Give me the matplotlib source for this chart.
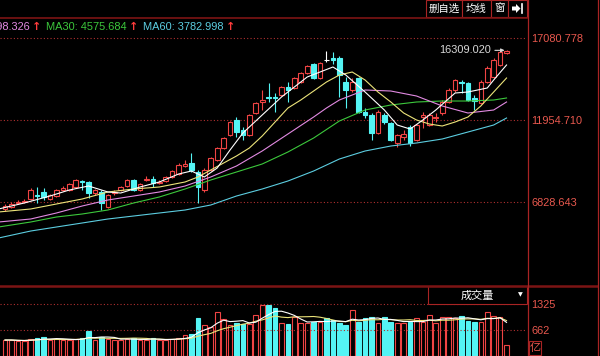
import matplotlib
matplotlib.use("Agg")
import matplotlib.pyplot as plt
import numpy as np
import pandas as pd
from matplotlib.lines import Line2D
from matplotlib.patches import Rectangle, Polygon

# ---------------- data ----------------
opens = [6392, 6517, 6767, 6829, 7017, 7267, 7455, 7017, 7205, 7580,
         7580, 7767, 8142, 8080, 7392, 7455, 6517, 7392, 7580, 7830,
         8205, 7580, 8205, 8267, 8017, 8142, 8392, 8580, 9080, 9267,
         8705, 7580, 8830, 9455, 10205, 11017, 11955, 11330, 11017, 12392,
         13080, 13392, 13392, 13517, 14017, 13955, 14330, 14893, 15455, 14580,
         15705, 15830, 15830, 14330, 13830, 14580, 12455, 12267, 11142, 12267,
         11767, 10517, 10892, 11517, 10705, 12142, 11642, 12079, 12392, 13080,
         13830, 14330, 14267, 13330, 13017, 14330, 14643, 15393, 16143]
closes = [6579, 6704, 6829, 6892, 7580, 7205, 7142, 7267, 7580, 7705,
          7955, 8205, 8080, 7392, 7580, 6767, 7267, 7455, 7767, 8205,
          7580, 7955, 8267, 8017, 8080, 8392, 8767, 9142, 9205, 8830,
          7767, 8830, 9580, 10205, 10830, 11830, 11205, 11017, 12267, 13017,
          13205, 13330, 13330, 14017, 13830, 14580, 14893, 15330, 14580, 15518,
          15705, 15705, 14768, 13830, 14330, 12455, 12267, 11142, 12455, 11830,
          10705, 11017, 11080, 10517, 11642, 12267, 12267, 12142, 13080, 13830,
          14455, 14267, 13205, 13142, 14330, 15205, 15705, 16205, 16268]
highs = [6704, 6829, 6954, 7017, 7705, 7767, 7705, 7330, 7642, 7830,
         8017, 8267, 8205, 8142, 7642, 7580, 7330, 7580, 7830, 8267,
         8267, 8017, 8455, 8455, 8205, 8455, 8830, 9267, 9455, 9892,
         8830, 8955, 9642, 10267, 10892, 11892, 12142, 11517, 12330, 13080,
         13830, 14267, 13642, 14080, 14330, 14643, 14955, 15393, 15518, 15580,
         16250, 16205, 15955, 14643, 14580, 14643, 12705, 12392, 12580, 12392,
         11830, 11080, 11330, 11642, 11705, 12455, 12392, 12392, 13205, 13955,
         14517, 14455, 14330, 13517, 14455, 15330, 15830, 16250, 16309.02]
lows = [6267, 6454, 6704, 6767, 6954, 6767, 6954, 6954, 7142, 7517,
        7517, 7705, 7580, 7079, 7267, 6329, 6454, 7267, 7517, 7767,
        7517, 7517, 8142, 7767, 7955, 8080, 8330, 8517, 9017, 8705,
        6767, 7455, 8767, 9392, 10142, 10955, 10892, 10705, 10955, 12330,
        12580, 13080, 12455, 13455, 13080, 13892, 14267, 14830, 14517, 14517,
        15580, 15455, 13392, 12705, 13705, 12392, 12079, 10705, 11080, 11704,
        10642, 10267, 10705, 10330, 10642, 11455, 11580, 11830, 12267, 13017,
        13705, 13642, 13142, 12580, 12955, 14267, 14580, 15330, 16080]
volume = [409, 409, 384, 384, 435, 460, 486, 409, 435, 409,
          409, 435, 460, 639, 409, 486, 435, 409, 409, 435,
          460, 409, 409, 460, 409, 409, 435, 460, 537, 563,
          972, 793, 742, 1125, 946, 793, 844, 818, 818, 1048,
          1304, 1304, 1227, 844, 818, 997, 844, 844, 869, 869,
          972, 921, 844, 793, 1176, 869, 972, 997, 844, 997,
          869, 844, 844, 869, 972, 869, 1048, 844, 997, 997,
          972, 1023, 895, 869, 869, 1125, 1023, 997, 281]

# moving averages (candle index, value)
ma5_idx = [-1, 3, 7, 10, 13, 16, 18, 21, 24, 27, 29, 31, 33, 35, 37, 39, 43, 47, 51, 53,
           56, 59, 61, 63, 65, 67, 70, 72, 75, 76, 78]
ma5_val = [6392, 6766, 7203, 7579, 7829, 7454, 7391, 7766, 8079, 8579, 8766, 8391, 8954,
           10080, 11142, 11892, 13392, 14643, 15268, 14767, 13705, 12580, 11642, 11392,
           11955, 12580, 13642, 13705, 13955, 14455, 15393]
ma10_idx = [-1, 4, 8, 12, 16, 20, 24, 28, 30, 32, 34, 36, 38, 40, 42, 44, 46, 48, 50, 52,
            54, 56, 58, 60, 62, 64, 66, 68, 70, 72, 74, 76, 78]
ma10_val = [6204, 6392, 6704, 7016, 7454, 7641, 7766, 8079, 8391, 8829, 9266, 9704, 10204,
            10954, 11829, 12704, 13205, 13767, 14330, 14767, 14955, 14455, 13705, 13080,
            12392, 11955, 11704, 11579, 11829, 12142, 12830, 13705, 14580]
ma20_idx = [-1, 4, 8, 12, 16, 20, 24, 28, 32, 36, 40, 44, 48, 50, 52, 56, 60, 64, 68, 72, 76, 78]
ma20_val = [5578, 5766, 6141, 6578, 6953, 7203, 7454, 7829, 8391, 9079, 10017, 11079,
            12142, 12705, 13205, 13830, 13767, 13455, 12830, 12392, 12580, 13080]
ma30_idx = [-1, 4, 8, 12, 16, 20, 24, 28, 32, 36, 40, 44, 48, 52, 56, 60, 64, 68, 72, 76, 78]
ma30_val = [5266, 5578, 5891, 6078, 6328, 6766, 7141, 7641, 8204, 8704, 9204, 9954,
            10829, 11892, 12580, 12892, 13080, 13142, 13142, 13205, 13330]
ma60_idx = [-1, 4, 8, 12, 16, 20, 24, 28, 32, 36, 40, 44, 48, 52, 56, 60, 64, 68, 72, 76, 78]
ma60_val = [4578, 5015, 5266, 5516, 5766, 5953, 6141, 6328, 6641, 7203, 7641, 8141,
            8766, 9516, 10017, 10329, 10517, 10767, 11204, 11642, 12079]

price_ticks = [17080.778, 11954.710, 6828.643]
price_tick_labels = ["17080.778", "11954.710", "6828.643"]
vol_ticks = [1325, 662]
vol_tick_labels = ["1325", "662"]
max_label = "16309.020"
legend_parts = [("5398.326", "#e28ae2"), ("MA30: 4575.684", "#3cc83c"), ("MA60: 3782.998", "#5ccde0")]
buttons = ["删自选", "均线", "窗"]
vol_title = "成交量"
vol_unit = "亿"

# ---------------- style ----------------
W, H = 600, 356
BG = "black"
RED = "#f04444"
CYAN = "#54f4f4"
GRID = "#b03030"
DARKRED = "#7c1414"
LINERED = "#a82424"
NUMFONT = ["Liberation Sans", "DejaVu Sans"]
CJK = ["Noto Sans CJK SC", "DejaVu Sans"]

def fx(x):
    return x / W

def fy(y):
    return 1 - y / H

fig = plt.figure(figsize=(6, 3.56), dpi=100, facecolor=BG)

XL = (-5 / 6.43, (527 - 5) / 6.43)
ax = fig.add_axes([0, fy(286), fx(527), (286 - 18) / H], facecolor=BG)
axv = fig.add_axes([0, 0, fx(527), (356 - 286) / H], facecolor=BG)

n = len(closes)
idx = np.arange(n)
o = np.array(opens, float); c = np.array(closes, float)
h = np.array(highs, float); l = np.array(lows, float)
bw = 0.72

for i in range(n):
    if c[i] > o[i]:
        col = RED
        ax.vlines(i, c[i], h[i], color=col, lw=0.8)
        ax.vlines(i, l[i], o[i], color=col, lw=0.8)
        ax.add_patch(Rectangle((i - bw / 2, o[i]), bw, c[i] - o[i], facecolor=BG,
                               edgecolor=col, lw=0.8, zorder=3))
    elif c[i] < o[i]:
        col = CYAN
        ax.vlines(i, l[i], h[i], color=col, lw=0.8, zorder=3)
        ax.add_patch(Rectangle((i - bw / 2, c[i]), bw, o[i] - c[i], facecolor=col,
                               edgecolor=col, lw=0.8, zorder=3))
    else:
        col = "white"
        ax.vlines(i, l[i], h[i], color=col, lw=0.8, zorder=3)
        ax.hlines(o[i], i - bw / 2, i + bw / 2, color=col, lw=0.8, zorder=3)

for xs, ys, col in [(ma60_idx, ma60_val, "#5ccde0"), (ma30_idx, ma30_val, "#3cc83c"),
                    (ma20_idx, ma20_val, "#e28ae2"), (ma10_idx, ma10_val, "#ece47a"),
                    (ma5_idx, ma5_val, "#ffffff")]:
    ax.plot(xs, ys, color=col, lw=0.8, zorder=4)

for t in price_ticks:
    ax.axhline(t, color=GRID, lw=0.8, ls=(0, (1, 2)), zorder=1)

ax.annotate(max_label, xy=(n - 1 - 0.3, h.max()), xytext=(-10, 0), textcoords="offset points",
            ha="right", va="center", color="#d8d8d8", fontsize=7.9, family=NUMFONT,
            arrowprops=dict(arrowstyle="-|>", color="#d8d8d8", lw=0.8, mutation_scale=5,
                            shrinkA=1, shrinkB=0))

ax.set_xlim(*XL)
ax.set_ylim(19456.27 - 62.513 * 286, 19456.27 - 62.513 * 18)
ax.yaxis.tick_right()
ax.set_yticks(price_ticks)
ax.set_yticklabels(price_tick_labels, family=NUMFONT, fontsize=7.9)
ax.tick_params(axis="y", length=0, pad=3, labelcolor="#e8584e")
ax.set_xticks([])
for s in ax.spines.values():
    s.set_visible(False)

# volume
vol = np.array(volume, float)
for i in range(n):
    if c[i] > o[i]:
        axv.add_patch(Rectangle((i - bw / 2, 0), bw, vol[i], facecolor=BG, edgecolor=RED, lw=0.8))
    else:
        axv.add_patch(Rectangle((i - bw / 2, 0), bw, vol[i], facecolor=CYAN, edgecolor=CYAN, lw=0.8))
vs = pd.Series(vol)
axv.plot(idx, vs.rolling(10, min_periods=1).mean(), color="#ece47a", lw=0.8, zorder=4)
axv.plot(idx, vs.rolling(5, min_periods=1).mean(), color="#ffffff", lw=0.8, zorder=4)
for t in vol_ticks:
    axv.axhline(t, color=GRID, lw=0.8, ls=(0, (1, 2)), zorder=1)
axv.set_xlim(*XL)
axv.set_ylim(0, 1790)
axv.yaxis.tick_right()
axv.set_yticks(vol_ticks)
axv.set_yticklabels(vol_tick_labels, family=NUMFONT, fontsize=7.9)
axv.tick_params(axis="y", length=0, pad=3, labelcolor="#e8584e")
axv.set_xticks([])
for s in axv.spines.values():
    s.set_visible(False)

# ---------------- frame & decorations ----------------
def fline(x0, y0, x1, y1, col, lw):
    fig.add_artist(Line2D([fx(x0), fx(x1)], [fy(y0), fy(y1)], transform=fig.transFigure,
                          color=col, lw=lw))

fline(0, 18, 527, 18, DARKRED, 1.2)
fline(0, 286, 597, 286, DARKRED, 1.8)
fline(527.5, 0, 527.5, 356, LINERED, 0.9)
fline(597.5, 0, 597.5, 356, LINERED, 0.9)

# legend row (first entry is cut by the left edge, as in the source screenshot)
fig.text(fx(30.5), fy(27), legend_parts[0][0], color=legend_parts[0][1], ha="right", va="center",
         fontsize=7.9, family=NUMFONT)
fig.text(fx(32), fy(27), "↑", color="#ff3c3c", ha="left", va="center", fontsize=8, family=["DejaVu Sans"], weight="bold")
fig.text(fx(46), fy(27), legend_parts[1][0], color=legend_parts[1][1], ha="left", va="center",
         fontsize=7.9, family=NUMFONT)
fig.text(fx(129), fy(27), "↑", color="#ff3c3c", ha="left", va="center", fontsize=8, family=["DejaVu Sans"], weight="bold")
fig.text(fx(143), fy(27), legend_parts[2][0], color=legend_parts[2][1], ha="left", va="center",
         fontsize=7.9, family=NUMFONT)
fig.text(fx(226), fy(27), "↑", color="#ff3c3c", ha="left", va="center", fontsize=8, family=["DejaVu Sans"], weight="bold")

# buttons at top right
edges = [426, 462, 491, 508, 527]
for k in range(4):
    fig.add_artist(Rectangle((fx(edges[k]), fy(17)), fx(edges[k + 1] - edges[k]), 17 / H,
                             transform=fig.transFigure, facecolor=BG, edgecolor=LINERED, lw=0.8))
for k, b in enumerate(buttons):
    fig.text(fx((edges[k] + edges[k + 1]) / 2), fy(8.5), b, color="white", ha="center",
             va="center", fontsize=7.5, family=CJK)
# arrow icon
fig.add_artist(Polygon([[fx(512), fy(6.5)], [fx(516), fy(6.5)], [fx(516), fy(4)], [fx(520.5), fy(8.5)],
                        [fx(516), fy(13)], [fx(516), fy(10.5)], [fx(512), fy(10.5)]],
                       closed=True, transform=fig.transFigure, facecolor="white", edgecolor="none"))
fline(522, 4, 522, 13, "white", 1.2)

# volume title box
fig.add_artist(Rectangle((fx(428), fy(304)), fx(99), 18 / H, transform=fig.transFigure,
                         facecolor=BG, edgecolor=LINERED, lw=0.8))
fig.text(fx(477), fy(295.5), vol_title, color="white", ha="center", va="center", fontsize=8,
         family=CJK)
fig.text(fx(520), fy(295), "▼", color="white", ha="center", va="center", fontsize=4.5,
         family=["DejaVu Sans"])

# unit box
fig.add_artist(Rectangle((fx(529), fy(355)), fx(12), 14 / H, transform=fig.transFigure,
                         facecolor=BG, edgecolor=LINERED, lw=0.8))
fig.text(fx(535), fy(348), vol_unit, color="#e8584e", ha="center", va="center", fontsize=8,
         family=CJK)

fig.savefig("out.png", dpi=100, facecolor=BG)
